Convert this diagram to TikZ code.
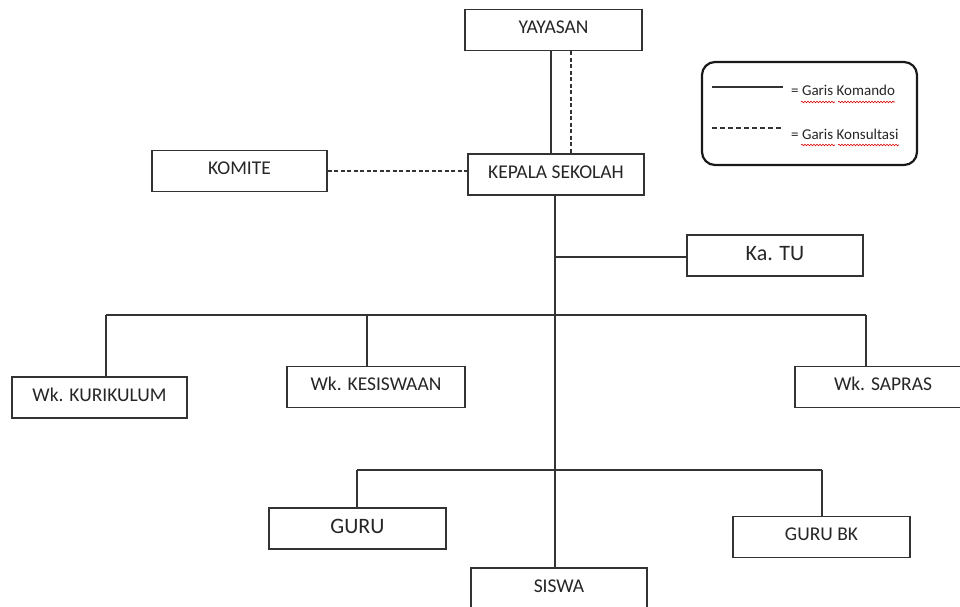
\documentclass[tikz,border=0pt]{standalone}
\usepackage{fontspec}
\setmainfont{Carlito}
\usetikzlibrary{decorations.pathmorphing}
\begin{document}
\begin{tikzpicture}[x=1pt,y=-1pt,
  box/.style={draw=black!80, line width=1.2pt, rectangle, inner sep=0pt,
    minimum height=41pt, text height=14pt, text depth=7pt,
    font=\fontsize{19.5}{22}\selectfont, text=black!85},
  bigbox/.style={box, font=\fontsize{22}{24}\selectfont, text height=15pt, text depth=5pt},
  conn/.style={draw=black!80, line width=1.1pt},
  consult/.style={conn, dash pattern=on 4pt off 2.5pt},
  legtext/.style={anchor=west, inner sep=0pt, font=\fontsize{15}{17}\selectfont, text=black!85},
  wavy/.style={draw=red!85!black, line width=0.6pt, decorate,
    decoration={snake, amplitude=0.8pt, segment length=3pt}}]
\clip (0,0) rectangle (960,606);
\fill[white] (0,0) rectangle (960,606);

% boxes
\node[box, minimum width=177pt] (yay) at (553.5,30) {YAYASAN};
\node[box, minimum width=176pt] (kep) at (556,174.5) {KEPALA SEKOLAH};
\node[box, minimum width=175pt] (kom) at (239.5,171) {KOMITE};
\node[bigbox, minimum width=176pt] (katu) at (775,255.5) {Ka. TU};
\node[box, minimum width=175pt] (kur) at (99.5,397.5) {Wk. KURIKULUM};
\node[box, minimum width=178pt] (kes) at (376,387) {Wk. KESISWAAN};
\node[box, minimum width=176pt] (sap) at (883,387) {Wk. SAPRAS};
\node[bigbox, minimum width=177pt] (guru) at (357.5,528.5) {GURU};
\node[box, minimum width=177pt] (gbk) at (821.5,537) {GURU BK};
\node[box, minimum width=176pt] (sis) at (559,588.5) {SISWA};

% junction coordinates
\coordinate (jtu) at (555,257);
\coordinate (jw) at (555,315);
\coordinate (jg) at (555,470);
\coordinate (hk) at (106,315);
\coordinate (hs) at (367,315);
\coordinate (hp) at (866,315);
\coordinate (gl) at (357,470);
\coordinate (gr) at (822,470);

% command lines
\draw[conn] ([xshift=-2.5pt]yay.south) -- ([xshift=-2.5pt]yay.south |- kep.north);
\draw[consult] ([xshift=17.5pt]yay.south) -- ([xshift=17.5pt]yay.south |- kep.north);
\draw[consult] (kom.east) -- (kom.east -| kep.west);
\draw[conn] ([xshift=-1pt]kep.south) -- (sis.north -| jw);
\draw[conn] (jtu) -- (jtu -| katu.west);
\draw[conn] (hk) -- (hp);
\draw[conn] (hk) -- (kur.north -| hk);
\draw[conn] (hs) -- (kes.north -| hs);
\draw[conn] (hp) -- (sap.north -| hp);
\draw[conn] (gl) -- (gr);
\draw[conn] (gl) -- (guru.north -| gl);
\draw[conn] (gr) -- (gbk.north -| gr);

% legend
\node[draw=black!90, line width=2.2pt, rounded corners=13pt, minimum width=215pt, minimum height=103pt, inner sep=0pt] (leg) at (809.5,113.5) {};
\coordinate (l1a) at (712,87);
\coordinate (l1b) at (783,87);
\coordinate (l2a) at (712,128);
\coordinate (l2b) at (781,128);
\draw[conn, line width=1.3pt] (l1a) -- (l1b);
\draw[consult, dash pattern=on 5pt off 3pt] (l2a) -- (l2b);
\node[legtext] (t1) at (791,90) {= Garis Komando};
\node[legtext] (t2) at (791,134) {= Garis Konsultasi};
\draw[wavy] (801,102) -- (835,102);
\draw[wavy] (838,102) -- (895,102);
\draw[wavy] (801,145) -- (835,145);
\draw[wavy] (838,145) -- (899,145);
\end{tikzpicture}
\end{document}
